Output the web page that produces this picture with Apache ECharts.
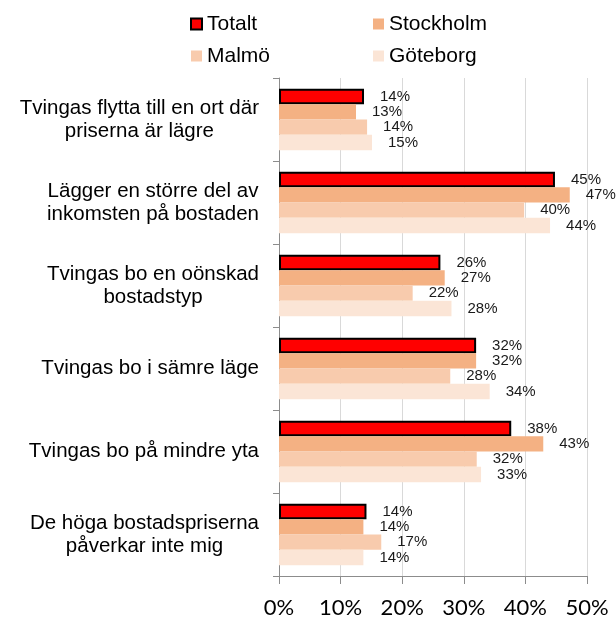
<!DOCTYPE html>
<html>
<head>
<meta charset="utf-8">
<script src="https://cdn.jsdelivr.net/npm/echarts@6/dist/echarts.min.js"></script>
<style>
  html, body { margin: 0; padding: 0; background: #fff; }
  #chart { width: 616px; height: 619px; }
</style>
</head>
<body>
<div id="chart"></div>
<script>
// categories, top to bottom
const categories = [
  'Tvingas flytta till en ort där\npriserna är lägre',
  'Lägger en större del av\ninkomsten på bostaden',
  'Tvingas bo en oönskad\nbostadstyp',
  'Tvingas bo i sämre läge',
  'Tvingas bo på mindre yta',
  'De höga bostadspriserna\npåverkar inte mig'
];

// share in percent
const totalt    = [13.8, 44.8, 26.2, 32.0, 37.7, 14.2];
const stockholm = [12.5, 47.2, 26.9, 32.0, 42.9, 13.7];
const malmo     = [14.3, 39.8, 21.7, 27.8, 32.1, 16.6];
const goteborg  = [15.1, 44.0, 28.0, 34.2, 32.8, 13.7];

const xTicks = [0, 10, 20, 30, 40, 50];

const font = '"Liberation Sans", Arial, sans-serif';

const chart = echarts.init(document.getElementById('chart'));

// label on the right of every bar, rounded like the original
const barLabel = {
  show: true,
  position: 'right',
  distance: 16,
  fontFamily: font,
  fontSize: 15,
  color: '#1a1a1a',
  formatter: p => Math.round(p.value) + '%'
};

function bar(name, data, itemStyle) {
  return {
    name,
    type: 'bar',
    data,
    barGap: '0%',
    barCategoryGap: '26%',
    itemStyle,
    label: barLabel,
    emphasis: { disabled: true }
  };
}

const legendText = { fontFamily: font, fontSize: 21, color: '#000', lineHeight: 22 };

chart.setOption({
  animation: false,
  legend: [
    {
      data: ['Totalt', 'Malmö'],
      orient: 'vertical',
      left: 185, top: 8,
      icon: 'rect',
      itemWidth: 11, itemHeight: 11, itemGap: 10,
      textStyle: legendText,
      selectedMode: false
    },
    {
      data: ['Stockholm', 'Göteborg'],
      orient: 'vertical',
      left: 368, top: 8,
      icon: 'rect',
      itemWidth: 11, itemHeight: 11, itemGap: 10,
      textStyle: legendText,
      selectedMode: false
    }
  ],
  grid: { left: 279, right: 29, top: 78, bottom: 43, containLabel: false },
  xAxis: {
    type: 'value',
    min: xTicks[0],
    max: xTicks[xTicks.length - 1],
    interval: 10,
    axisLine: { show: true, lineStyle: { color: '#8c8c8c', width: 1 } },
    axisTick: { show: true, inside: false, length: 8, lineStyle: { color: '#8c8c8c' } },
    splitLine: { show: true, lineStyle: { color: '#d9d9d9', width: 1 } },
    axisLabel: {
      margin: 21,
      fontFamily: 'Lato, "Open Sans", sans-serif',
      fontSize: 22,
      color: '#000',
      formatter: v => v + '%'
    }
  },
  yAxis: {
    type: 'category',
    data: categories,
    inverse: true,
    axisLine: { show: true, lineStyle: { color: '#8c8c8c', width: 1 } },
    axisTick: { show: true, length: 6, lineStyle: { color: '#8c8c8c' } },
    axisLabel: {
      margin: 20,
      align: 'right',
      color: '#000',
      formatter: v => '{c|' + v + '}',
      rich: {
        c: { align: 'center', fontFamily: font, fontSize: 20.5, lineHeight: 23, color: '#000' }
      }
    }
  },
  series: [
    bar('Totalt', totalt, { color: '#ff0000', borderColor: '#000', borderWidth: 2 }),
    bar('Stockholm', stockholm, { color: '#f4b183' }),
    bar('Malmö', malmo, { color: '#f8cbad' }),
    bar('Göteborg', goteborg, { color: '#fbe5d6' })
  ]
});
</script>
</body>
</html>
